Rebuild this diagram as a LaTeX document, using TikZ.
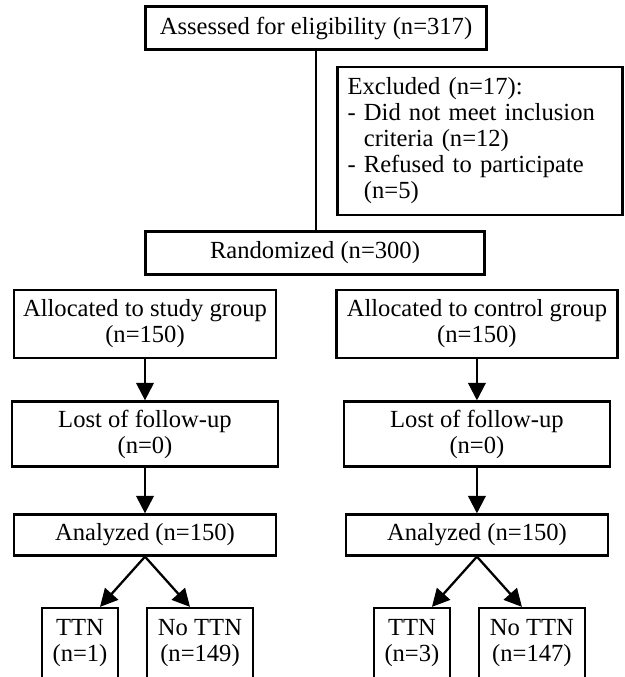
\documentclass[tikz,border=0pt]{standalone}
\usepackage{fontspec}
\setmainfont{Liberation Serif}
\usetikzlibrary{arrows.meta}

\begin{document}
\begin{tikzpicture}[x=0.02cm, y=-0.02cm, line width=1.3pt,
    box/.style={draw, align=center, inner sep=0pt, font=\fontsize{14}{14.8}\selectfont},
    arr/.style={-{Triangle[width=10pt,length=10pt]}}]
  \clip (0,0) rectangle (625,677);
  \node[box, minimum width=6.82cm, minimum height=0.86cm] (assessed) at (316,28) {Assessed for eligibility (n=317)};
  \node[box, text width=5.3cm, inner xsep=0.2cm, minimum height=2.96cm, align=left] (excluded) at (480,141)
    {Excluded (n=17):\\- Did not meet inclusion\\\phantom{- }criteria (n=12)\\- Refused to participate\\\phantom{- }(n=5)};
  \node[box, minimum width=6.78cm, minimum height=0.86cm] (rand) at (315,253) {Randomized (n=300)};
  \draw (assessed.south) -- (assessed.south |- rand.north);
  \foreach \s/\g/\w/\a/\b in {0/study/5.24/1/149, 6.64/control/5.62/3/147}{
    \begin{scope}[xshift=\s cm]
      \node[box, minimum width=\w cm, minimum height=1.36cm] (alloc\g) at (145,324) {Allocated to \g\ group\\(n=150)};
      \node[box, minimum width=5.32cm, minimum height=1.3cm] (lost\g) at (145,434) {Lost of follow-up\\(n=0)};
      \node[box, minimum width=5.24cm, minimum height=0.82cm] (ana\g) at (145,535) {Analyzed (n=150)};
      \node[box, minimum width=1.52cm, minimum height=1.4cm] (ttn\g) at (80,643) {TTN\\(n=\a)};
      \node[box, minimum width=2.12cm, minimum height=1.4cm] (nottn\g) at (200,643) {No TTN\\(n=\b)};
      \draw[arr] (alloc\g) -- (lost\g);
      \draw[arr] (lost\g) -- (ana\g);
      \draw[arr] (ana\g.south) -- ([xshift=0.4cm]ttn\g.north);
      \draw[arr] (ana\g.south) -- ([xshift=-0.2cm]nottn\g.north);
    \end{scope}
  }
\end{tikzpicture}
\end{document}
